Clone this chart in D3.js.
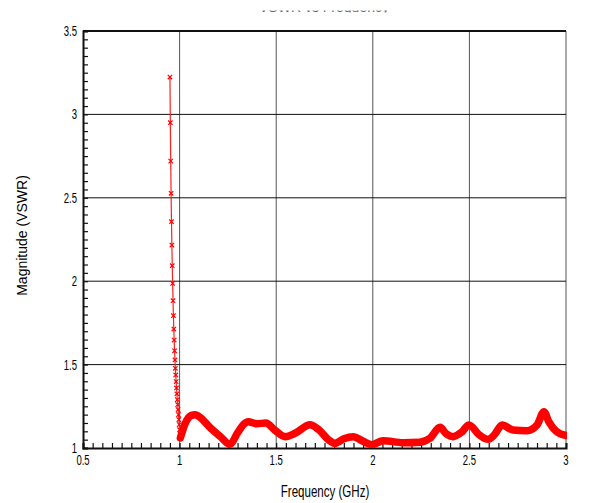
<!DOCTYPE html>
<html>
<head>
<meta charset="utf-8">
<script src="https://cdn.jsdelivr.net/npm/d3@7"></script>
<style>
  body { margin: 0; background: #fff; }
  svg { display: block; }
  .tick-label { font-family: "Liberation Sans", Arial, sans-serif; font-size: 14px; fill: #000; }
  .axis-title { font-family: "Liberation Sans", Arial, sans-serif; font-size: 14px; fill: #000; }
</style>
</head>
<body>
<svg id="chart"></svg>
<script>
// steep part of the sweep, drawn with x markers
var markerFreq = [0.950, 0.952, 0.954, 0.956, 0.958, 0.960, 0.962, 0.964, 0.966, 0.968,
  0.970, 0.972, 0.974, 0.976, 0.978, 0.980, 0.982, 0.984, 0.986, 0.988,
  0.990, 0.992, 0.994, 0.996, 0.998, 1.000, 1.002, 1.004];
var markerVswr = [3.224, 2.95, 2.72, 2.527, 2.357, 2.217, 2.093, 1.987, 1.883, 1.793,
  1.713, 1.647, 1.583, 1.528, 1.478, 1.438, 1.398, 1.36, 1.325, 1.29,
  1.26, 1.23, 1.2, 1.17, 1.14, 1.11, 1.085, 1.06];

// rest of the sweep (dense points merge into a thick band)
var bandFreq = [1.004, 1.03, 1.06, 1.08, 1.11, 1.16, 1.21, 1.26, 1.30, 1.33, 1.355, 1.40,
  1.447, 1.49, 1.546, 1.60, 1.675, 1.72, 1.77, 1.804, 1.85, 1.898, 1.95, 1.996,
  2.053, 2.156, 2.244, 2.296, 2.348, 2.38, 2.415, 2.46, 2.498, 2.55, 2.596, 2.63,
  2.669, 2.726, 2.798, 2.85, 2.886, 2.91, 2.95, 3.0];
var bandVswr = [1.06, 1.15, 1.195, 1.2, 1.18, 1.12, 1.07, 1.022, 1.09, 1.14, 1.158, 1.145,
  1.15, 1.11, 1.068, 1.09, 1.14, 1.11, 1.05, 1.028, 1.055, 1.068, 1.04, 1.02,
  1.044, 1.032, 1.035, 1.058, 1.124, 1.085, 1.068, 1.095, 1.138, 1.08, 1.052, 1.08,
  1.138, 1.108, 1.104, 1.138, 1.218, 1.16, 1.1, 1.075];

var xTicks = [0.5, 1, 1.5, 2, 2.5, 3];
var xTickLabels = ["0.5", "1", "1.5", "2", "2.5", "3"];
var yTicks = [1, 1.5, 2, 2.5, 3, 3.5];
var yTickLabels = ["1", "1.5", "2", "2.5", "3", "3.5"];

var width = 604, height = 503;
var margin = { left: 83, right: 38, top: 31, bottom: 55 };
var squeeze = 0.68; // the labels use a narrow face

var svg = d3.select("#chart").attr("width", width).attr("height", height);

var x = d3.scaleLinear().domain([0.5, 3]).range([margin.left, width - margin.right]);
var y = d3.scaleLinear().domain([1, 3.5]).range([height - margin.bottom, margin.top]);

// title, cut off at the top edge
svg.append("clipPath").attr("id", "titleClip")
  .append("rect").attr("x", 0).attr("y", 10.5).attr("width", width).attr("height", 2);
svg.append("text")
  .attr("clip-path", "url(#titleClip)")
  .attr("x", 324).attr("y", 12)
  .attr("text-anchor", "middle")
  .attr("class", "axis-title")
  .style("fill", "#666")
  .text("VSWR vs Frequency");

// grid
var grid = svg.append("g");
grid.selectAll("line.vg")
  .data(xTicks.slice(1))
  .enter().append("line")
  .attr("class", "vg")
  .attr("x1", d => x(d)).attr("x2", d => x(d))
  .attr("y1", y(3.5)).attr("y2", y(1))
  .attr("stroke", "#555").attr("stroke-width", 1);
grid.selectAll("line.hg")
  .data(yTicks.slice(1, -1))
  .enter().append("line")
  .attr("class", "hg")
  .attr("x1", x(0.5)).attr("x2", x(3))
  .attr("y1", d => y(d)).attr("y2", d => y(d))
  .attr("stroke", "#111").attr("stroke-width", 1);

// top border
svg.append("line")
  .attr("x1", x(0.5)).attr("x2", x(3))
  .attr("y1", y(3.5)).attr("y2", y(3.5))
  .attr("stroke", "#111").attr("stroke-width", 2);

// x axis with minor ticks
var xAxis = d3.axisBottom(x)
  .tickValues(d3.range(0, 51).map(i => 0.5 + i * 0.05))
  .tickSize(-5)
  .tickFormat("");
var gx = svg.append("g")
  .attr("transform", `translate(0,${y(1)})`)
  .call(xAxis);
gx.select(".domain").attr("stroke", "#111").attr("stroke-width", 2);
gx.selectAll(".tick line").attr("stroke", "#111").attr("stroke-width", 1.2);

svg.selectAll("g.xl")
  .data(xTicks)
  .enter().append("g")
  .attr("class", "xl")
  .attr("transform", d => `translate(${x(d)},${y(1) + 17}) scale(${squeeze},1)`)
  .append("text")
  .attr("class", "tick-label")
  .attr("text-anchor", "middle")
  .text((d, i) => xTickLabels[i]);

// y axis with minor ticks
var yAxis = d3.axisLeft(y)
  .tickValues(d3.range(0, 51).map(i => 1 + i * 0.05))
  .tickSize(-5)
  .tickFormat("");
var gy = svg.append("g")
  .attr("transform", `translate(${x(0.5)},0)`)
  .call(yAxis);
gy.select(".domain").attr("stroke", "#111").attr("stroke-width", 2);
gy.selectAll(".tick line").attr("stroke", "#111").attr("stroke-width", 1.2);

svg.selectAll("g.yl")
  .data(yTicks)
  .enter().append("g")
  .attr("class", "yl")
  .attr("transform", d => `translate(${x(0.5) - 6},${y(d) + 5}) scale(${squeeze},1)`)
  .append("text")
  .attr("class", "tick-label")
  .attr("text-anchor", "end")
  .text((d, i) => yTickLabels[i]);

// axis titles
svg.append("g")
  .attr("transform", `translate(325,497) scale(0.7,1)`)
  .append("text")
  .attr("class", "axis-title")
  .style("font-size", "16.5px")
  .attr("text-anchor", "middle")
  .text("Frequency (GHz)");
svg.append("text")
  .attr("class", "axis-title")
  .attr("transform", `translate(27,${y(2.25) - 4}) rotate(-90)`)
  .attr("text-anchor", "middle")
  .text("Magnitude (VSWR)");

// data
svg.append("clipPath").attr("id", "plotClip")
  .append("rect")
  .attr("x", x(0.5)).attr("y", y(3.5))
  .attr("width", x(3) - x(0.5) + 1).attr("height", y(1) - y(3.5));

var plot = svg.append("g").attr("clip-path", "url(#plotClip)");

var bandData = bandFreq.map((f, i) => [f, bandVswr[i]]);
var markerData = markerFreq.map((f, i) => [f, markerVswr[i]]);

var line = d3.line()
  .x(d => x(d[0]))
  .y(d => y(d[1]))
  .curve(d3.curveMonotoneX);

plot.append("path")
  .datum(bandData)
  .attr("fill", "none")
  .attr("stroke", "#ff0000")
  .attr("stroke-width", 7.5)
  .attr("stroke-linejoin", "round")
  .attr("stroke-linecap", "round")
  .attr("d", line);

plot.append("path")
  .datum(markerData)
  .attr("fill", "none")
  .attr("stroke", "#ff2020")
  .attr("stroke-width", 1.2)
  .attr("d", d3.line().x(d => x(d[0])).y(d => y(d[1])));

var ms = 2.2;
plot.selectAll("path.mk")
  .data(markerData)
  .enter().append("path")
  .attr("class", "mk")
  .attr("d", d => {
    var cx = x(d[0]), cy = y(d[1]);
    return `M${cx - ms},${cy - ms}L${cx + ms},${cy + ms}M${cx - ms},${cy + ms}L${cx + ms},${cy - ms}`;
  })
  .attr("stroke", "#ff0000")
  .attr("stroke-width", 1.2);
</script>
</body>
</html>
